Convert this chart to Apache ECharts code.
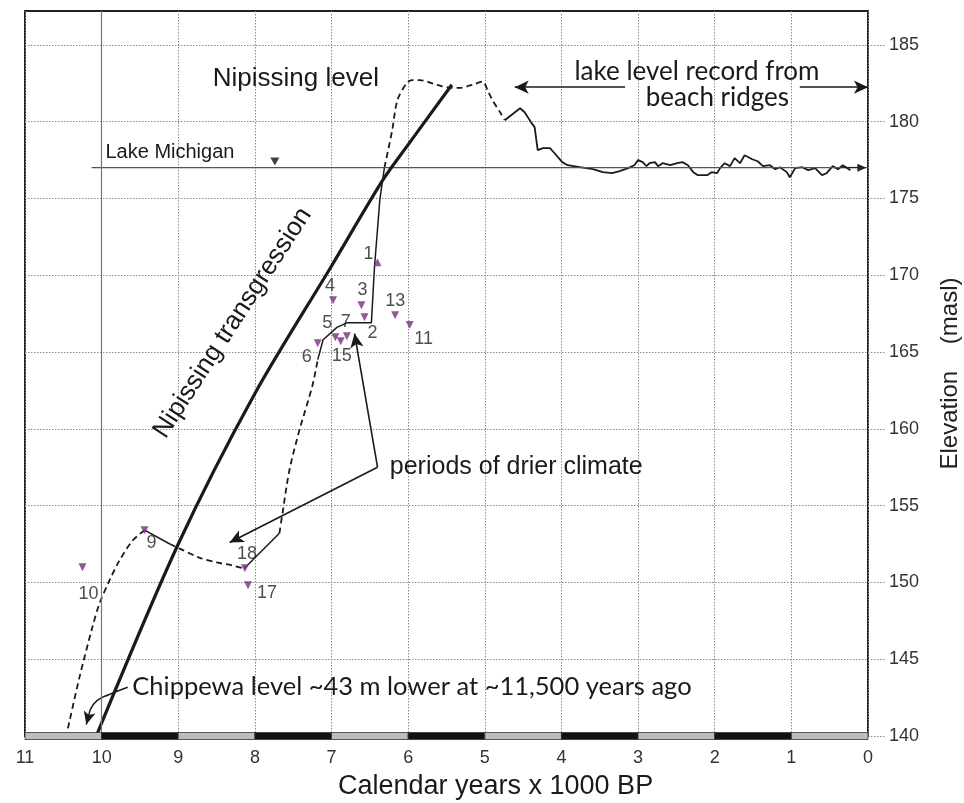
<!DOCTYPE html>
<html><head><meta charset="utf-8">
<script src="https://cdn.jsdelivr.net/npm/echarts@6/dist/echarts.min.js"></script>
<style>html,body{margin:0;padding:0;background:#fff}#c{width:964px;height:803px}</style>
</head><body><div id="c"></div>
<script>
// ---------- data ----------
const yTickValues = [140,145,150,155,160,165,170,175,180,185];
const xTickValues = [0,1,2,3,4,5,6,7,8,9,10,11];

// thick line: Nipissing transgression
const nipissingTransgression = [[10.07,140],[9,152.5],[8,162.3],[7,170.6],[6.33,176.2],[6,178.5],[5.43,182.4]];

// reconstructed lake level (alternating dashed / solid pieces)
const reconDashed1 = [[10.44,140.5],[10.29,143.8],[10.12,147.1],[10.03,148.6],[9.90,150.1],[9.77,151.4],[9.60,152.7],[9.44,153.4]];
const reconSolid1  = [[9.44,153.4],[9.11,152.5]];
const reconDashed2 = [[9.11,152.5],[8.98,152.2],[8.72,151.6],[8.50,151.3],[8.29,151.1],[8.14,150.9]];
const reconSolid2  = [[8.14,150.9],[7.68,153.2]];
const reconDashed3 = [[7.68,153.2],[7.64,154.5],[7.55,157.3],[7.42,159.9],[7.25,162.8],[7.18,164.5]];
const reconSolid3  = [[7.18,164.5],[7.11,165.8],[6.93,166.6],[6.80,166.9],[6.48,166.9],[6.44,170.5],[6.37,174.9],[6.31,177.0]];
const reconDashed4 = [[6.31,177.0],[6.21,179.4],[6.14,181.4],[6.02,182.5],[5.95,182.7],[5.85,182.7],[5.63,182.4],[5.43,182.2],[5.33,182.2],[5.16,182.4],[5.03,182.6],[4.96,182.0],[4.90,181.4],[4.80,180.6],[4.74,180.1]];

// lake level record from beach ridges
const beachRidgeRecord = [[4.74,180.09],[4.54,180.87],[4.48,180.61],[4.39,179.90],[4.35,179.64],[4.31,178.14],[4.24,178.27],[4.15,178.27],[4.09,177.94],[3.99,177.36],[3.92,177.16],[3.76,177.03],[3.59,176.90],[3.46,176.71],[3.34,176.64],[3.24,176.77],[3.13,176.97],[3.05,177.16],[3.00,177.49],[2.94,177.36],[2.89,177.10],[2.85,177.29],[2.78,177.36],[2.74,177.10],[2.68,177.29],[2.58,177.16],[2.49,177.29],[2.42,177.36],[2.35,177.16],[2.28,176.71],[2.22,176.51],[2.10,176.51],[2.04,176.71],[1.97,176.64],[1.93,176.97],[1.87,177.29],[1.80,177.10],[1.74,177.62],[1.67,177.29],[1.61,177.81],[1.51,177.55],[1.44,177.42],[1.37,177.10],[1.28,177.16],[1.21,176.90],[1.15,177.03],[1.06,176.71],[1.02,176.38],[0.95,176.97],[0.86,177.03],[0.78,176.84],[0.69,176.97],[0.60,176.51],[0.54,176.64],[0.46,177.10],[0.39,176.90],[0.33,177.16],[0.23,176.84]];

// present Lake Michigan level
const lakeMichiganLevel = 177;
const lakeMichiganSpan = [10.13, 0];
const lakeMichiganMarker = [7.74, 177.4];

// Chippewa-level pointer curve
const chippewaPointer = [[9.66,143.17],[9.90,142.70],[10.06,142.30],[10.15,141.7]];
const chippewaPointerTip = [10.20, 140.75];

// dated samples
const sampleIds = ['1','2','3','4','5','6','7','9','10','11','13','15','17','18'];
const sampleX   = [6.40,6.57,6.61,6.98,6.95,7.18,6.80,9.44,10.25,5.98,6.17,6.88,8.09,8.13];
const sampleY   = [170.84,167.26,168.05,168.37,165.96,165.57,166.02,153.39,150.98,166.75,167.40,165.70,149.82,150.92];
const sampleUpward = ['1'];

// alternating scale bar along the time axis: [from, to, dark?]
const scaleBarSegments = [[11,10,0],[10,9,1],[9,8,0],[8,7,1],[7,6,0],[6,5,1],[5,4,0],[4,3,1],[3,2,0],[2,1,1],[1,0,0]];

// ---------- layout / styles ----------
const labelOffsets = {'1':[-9,-8],'2':[8,16],'3':[1,-15],'4':[-3,-14],'5':[-8,-14],'6':[-11,14],'7':[-1,-14],
  '9':[7,13],'10':[6,27],'11':[14,14],'13':[0,-14],'15':[1,15],'17':[19,8],'18':[2,-14]};
const INK = '#1a1a1a';
const PURPLE = '#7b2d80';
const HELV = '"Liberation Sans", Arial, sans-serif';
const MYRIAD = 'Lato, "Open Sans", sans-serif';

function lineSeries(data, dashed, width, extra) {
  return Object.assign({
    type: 'line', data: data, symbol: 'none', showSymbol: false, silent: true, z: 3,
    lineStyle: { color: INK, width: width, type: dashed ? [6, 4] : 'solid', cap: 'butt' }
  }, extra || {});
}

const chart = echarts.init(document.getElementById('c'), null, { renderer: 'canvas' });

const sampleData = sampleIds.map((id, i) => {
  const up = sampleUpward.indexOf(id) >= 0;
  return {
    name: id, value: [sampleX[i], sampleY[i]],
    symbolRotate: up ? 0 : 180,
    label: { offset: labelOffsets[id] || [0, -14] }
  };
});

const option = {
  animation: false,
  backgroundColor: '#ffffff',
  grid: { left: 25, right: 96, top: 11, bottom: 67, outerBoundsMode: 'none', containLabel: false,
          show: true, borderColor: '#222', borderWidth: 2, backgroundColor: 'transparent' },
  xAxis: {
    type: 'value', min: 0, max: 11, interval: 1, inverse: true,
    axisLine: { show: false }, axisTick: { show: false },
    axisLabel: { fontSize: 18, color: '#333', margin: 13, fontFamily: HELV },
    splitLine: { show: true, lineStyle: { color: '#8c8c8c', width: 1, type: [1.5, 1.5] } }
  },
  yAxis: {
    type: 'value', min: 140, max: 187.2, interval: 5, position: 'right',
    axisLine: { show: false },
    axisTick: { show: true, inside: false, length: 17, customValues: yTickValues, lineStyle: { color: '#8c8c8c', type: [1.5, 1.5] } },
    axisLabel: { customValues: yTickValues, fontSize: 18, color: '#333', margin: 21, fontFamily: HELV },
    splitLine: { show: true, lineStyle: { color: '#8c8c8c', width: 1, type: [1.5, 1.5] } },
    name: 'Elevation    (masl)', nameLocation: 'middle', nameRotate: 90, nameGap: 70,
    nameTextStyle: { fontSize: 24, color: '#222', fontFamily: HELV }
  },
  series: [
    lineSeries(nipissingTransgression, false, 3.2, { smooth: 0.3, z: 4 }),
    lineSeries(reconDashed1, true, 1.8, { smooth: 0.3 }),
    lineSeries(reconSolid1, false, 1.5),
    lineSeries(reconDashed2, true, 1.8, { smooth: 0.3 }),
    lineSeries(reconSolid2, false, 1.5),
    lineSeries(reconDashed3, true, 1.8, { smooth: 0.3 }),
    lineSeries(reconSolid3, false, 1.5),
    lineSeries(reconDashed4, true, 1.8, { smooth: 0.3 }),
    lineSeries(beachRidgeRecord, false, 1.8),
    lineSeries(chippewaPointer, false, 1.5, {
      smooth: 0.5,
      markLine: {
        silent: true, animation: false, symbol: ['none', 'arrow'], symbolSize: [9, 13],
        lineStyle: { color: INK, width: 1.5, type: 'solid' }, label: { show: false },
        data: [[{ coord: chippewaPointer[chippewaPointer.length - 1] }, { coord: chippewaPointerTip }]]
      }
    }),
    lineSeries(lakeMichiganSpan.map(x => [x, lakeMichiganLevel]), false, 1.2, {
      lineStyle: { color: '#555', width: 1.2 },
      markLine: {
        silent: true, symbol: ['none', 'triangle'], symbolSize: [8, 9], animation: false,
        lineStyle: { color: '#222', width: 1.2, type: 'solid' }, label: { show: false },
        data: [[{ coord: [0.35, lakeMichiganLevel] }, { coord: [0.08, lakeMichiganLevel] }]]
      }
    }),
    {
      type: 'scatter', silent: true, z: 5, data: [lakeMichiganMarker],
      symbol: 'triangle', symbolRotate: 180, symbolSize: [9, 8], itemStyle: { color: '#111' }
    },
    {
      type: 'scatter', silent: true, z: 6, data: sampleData,
      symbol: 'triangle', symbolSize: [8, 8], itemStyle: { color: PURPLE },
      label: { show: true, position: 'inside', formatter: '{b}', fontSize: 18, color: '#222', fontFamily: HELV }
    },
    {
      type: 'custom', silent: true, z: 10, clip: false, data: scaleBarSegments,
      renderItem: function (params, api) {
        const a = api.coord([api.value(0), 140]);
        const b = api.coord([api.value(1), 140]);
        return {
          type: 'rect',
          shape: { x: Math.min(a[0], b[0]), y: a[1] - 3.5, width: Math.abs(b[0] - a[0]), height: 7 },
          style: { fill: api.value(2) ? '#111' : '#bdbdbd', stroke: '#333', lineWidth: 0.8 }
        };
      }
    },
    // annotation arrows and the darker 10 ka reference line
    {
      type: 'line', data: [], silent: true,
      markLine: {
        silent: true, animation: false, symbol: ['none', 'arrow'], symbolSize: [10, 14],
        lineStyle: { color: INK, width: 1.6, type: 'solid' }, label: { show: false },
        data: [
          [{ coord: [6.40, 157.5] }, { coord: [6.70, 166.2] }],
          [{ coord: [6.40, 157.5] }, { coord: [8.33, 152.6] }],
          [{ coord: [3.17, 182.24] }, { coord: [4.61, 182.24] }],
          [{ coord: [0.89, 182.24] }, { coord: [0.0, 182.24] }],
          [{ coord: [10, 140], symbol: 'none', lineStyle: { color: '#777', width: 1.2 } },
           { coord: [10, 187.2], symbol: 'none' }]
        ]
      }
    }
  ]
};
chart.setOption(option);

// text annotations placed in data coordinates
function px(x, y) { return chart.convertToPixel({ gridIndex: 0 }, [x, y]); }
function txt(text, at, font, align, rot) {
  const p = px(at[0], at[1]);
  return {
    type: 'text', x: p[0], y: p[1], rotation: rot || 0, silent: true, z: 20,
    style: { text: text, font: font, fill: '#1a1a1a', textAlign: align || 'left', textVerticalAlign: 'middle' }
  };
}
const xTitlePos = px(4.86, 140);
chart.setOption({
  graphic: [
    txt('Nipissing level', [8.55, 182.76], '26px ' + HELV, 'left'),
    txt('lake level record from', [3.83, 183.28], '26px ' + MYRIAD, 'left'),
    txt('beach ridges', [2.9, 181.59], '26px ' + MYRIAD, 'left'),
    txt('Lake Michigan', [9.95, 178.0], '20px ' + HELV, 'left'),
    txt('Nipissing transgression', [8.29, 166.9], '26px ' + HELV, 'center', 57 * Math.PI / 180),
    txt('periods of drier climate', [6.24, 157.5], '25px ' + HELV, 'left'),
    txt('Chippewa level ~43 m lower at ~11,500 years ago', [9.6, 143.2], '25.5px ' + MYRIAD, 'left'),
    {
      type: 'text', x: xTitlePos[0], y: xTitlePos[1] + 51, silent: true,
      style: { text: 'Calendar years x 1000 BP', font: '27px ' + HELV, fill: '#1a1a1a', textAlign: 'center', textVerticalAlign: 'middle' }
    }
  ]
});
</script>
</body></html>
